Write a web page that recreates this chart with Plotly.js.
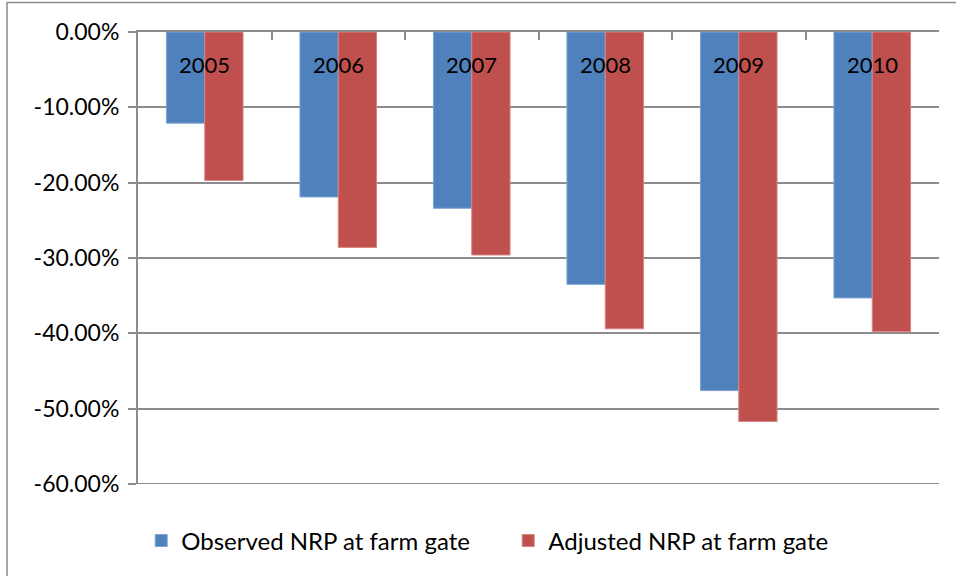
<!DOCTYPE html>
<html>
<head>
<meta charset="utf-8">
<script src="https://cdn.plot.ly/plotly-3.0.1.min.js"></script>
<style>html,body{margin:0;padding:0;background:#fff;}#chart{width:956px;height:576px;}</style>
</head>
<body>
<div id="chart"></div>
<script>
const years = ['2005', '2006', '2007', '2008', '2009', '2010'];
const observedNRP = [-12.1, -21.9, -23.4, -33.5, -47.6, -35.3];
const adjustedNRP = [-19.7, -28.6, -29.6, -39.4, -51.7, -39.8];
const seriesNames = ['Observed NRP at farm gate', 'Adjusted NRP at farm gate'];
const yTicks = [0, -10, -20, -30, -40, -50, -60];

const FONT = 'Lato, "Open Sans", sans-serif';
const GRID = '#8c8c8c';

const traces = [
  {type: 'bar', name: seriesNames[0], x: years, y: observedNRP,
   marker: {color: '#4F81BD', line: {color: '#7fa3d3', width: 1}}, hoverinfo: 'skip'},
  {type: 'bar', name: seriesNames[1], x: years, y: adjustedNRP,
   marker: {color: '#C0504D', line: {color: '#d88583', width: 1}}, hoverinfo: 'skip'}
];

// year labels placed at each category position (index on the category axis)
const yearLabels = years.map((yr, i) => ({
  x: i, y: 0, xref: 'x', yref: 'y', text: yr, showarrow: false,
  yanchor: 'middle', xanchor: 'center', yshift: -32,
  font: {family: FONT, size: 22, color: '#000'}
}));

const layout = {
  width: 956, height: 576,
  margin: {l: 138, r: 17, t: 32, b: 92, pad: 0},
  paper_bgcolor: '#ffffff', plot_bgcolor: '#ffffff',
  font: {family: FONT, size: 22, color: '#000'},
  barmode: 'group', bargap: 0.426, bargroupgap: 0,
  showlegend: true,
  legend: {orientation: 'h', x: 0.004, xanchor: 'left', y: -0.126, yanchor: 'middle',
           font: {family: FONT, size: 24, color: '#000'},
           entrywidth: 322, entrywidthmode: 'pixels',
           traceorder: 'normal', bgcolor: 'rgba(0,0,0,0)', itemwidth: 30},
  xaxis: {type: 'category', categoryorder: 'array', categoryarray: years,
          range: [-0.5, years.length - 0.5], side: 'top', showline: true, linecolor: GRID, linewidth: 2,
          ticks: 'inside', ticklen: 8, tickcolor: GRID, tickwidth: 2, tickson: 'boundaries',
          showticklabels: false, showgrid: false, zeroline: false, fixedrange: true},
  yaxis: {range: [-60, 0], tickvals: yTicks, ticktext: yTicks.map(v => v.toFixed(2) + '%'),
          showline: true, linecolor: GRID, linewidth: 2,
          ticks: 'outside', ticklen: 8, tickcolor: GRID, tickwidth: 2, ticklabelstandoff: 4,
          showgrid: true, gridcolor: GRID, gridwidth: 2, zeroline: false,
          tickfont: {family: FONT, size: 23, color: '#000'}, fixedrange: true},
  annotations: yearLabels,
  shapes: [
    {type: 'line', xref: 'paper', yref: 'y', x0: 0, x1: 1, y0: yTicks[yTicks.length - 1], y1: yTicks[yTicks.length - 1],
     line: {color: GRID, width: 2}, layer: 'below'},
    {type: 'rect', xref: 'paper', yref: 'paper', x0: -0.1635, x1: 1.03, y0: -0.3, y1: 1.065,
     line: {color: '#8c8c8c', width: 1.5}, fillcolor: 'rgba(0,0,0,0)', layer: 'below'}
  ]
};

Plotly.newPlot('chart', traces, layout, {staticPlot: true, displayModeBar: false});
</script>
</body>
</html>
